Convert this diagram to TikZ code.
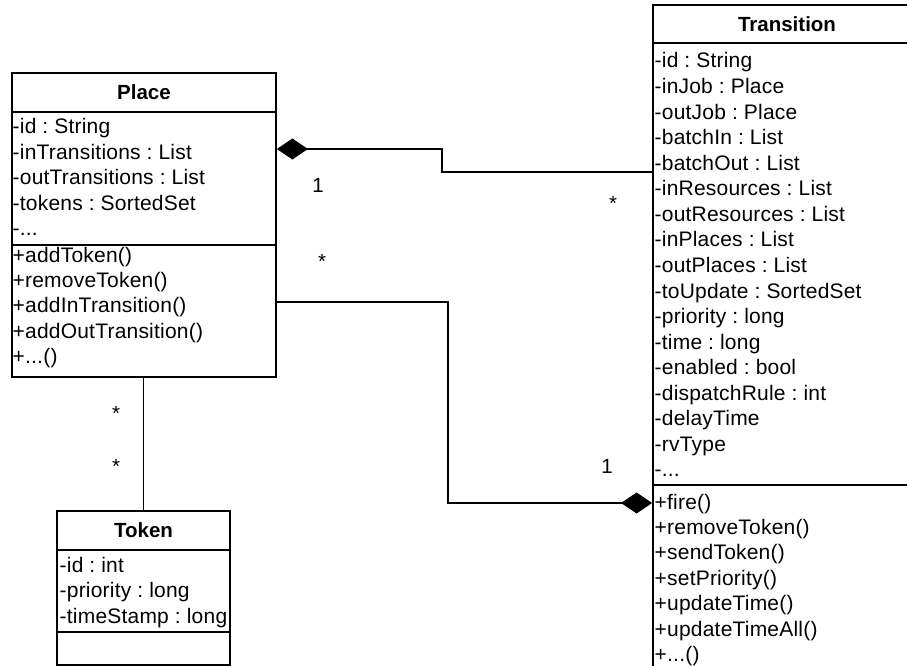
\documentclass[tikz,border=0pt]{standalone}
\usepackage{fontspec}
\setmainfont{Liberation Sans}
\newfontfamily\memberfont[LetterSpace=1.0]{Liberation Sans}
\usetikzlibrary{arrows.meta}
% three periods, written so that \foreach does not read them as a range
\newcommand\dotrun{.{}.{}.}
\frenchspacing
\begin{document}
\begin{tikzpicture}[x=1pt,y=-1pt,
  classbox/.style={draw, line width=1.8pt, rectangle, inner sep=0pt},
  divider/.style={line width=1.8pt},
  link/.style={line width=1.1pt},
  member/.style={anchor=base west, inner sep=0pt, font=\memberfont\fontsize{21}{24}\selectfont},
  classname/.style={anchor=base, inner sep=0pt, font=\fontsize{20.5}{24}\selectfont\bfseries},
  mult/.style={inner sep=0pt, font=\fontsize{20.5}{24}\selectfont},
  comp/.tip={Diamond[length=31pt 0, width=21pt 0]},
]
\useasboundingbox (0,0) rectangle (907,666);
\begin{scope}
\clip (0,0) rectangle (907,666);

% class frames
\node[classbox, minimum width=264pt, minimum height=304pt] (place) at (144,225) {};
\node[classbox, minimum width=173pt, minimum height=154pt] (token) at (143.5,588) {};
\node[classbox, minimum width=268pt, minimum height=695pt] (trans) at (787,352.5) {};

% compartment dividers
\draw[divider] (place.west |- 0,112) -- (place.east |- 0,112);
\draw[divider] (place.west |- 0,245) -- (place.east |- 0,245);
\draw[divider] (token.west |- 0,550) -- (token.east |- 0,550);
\draw[divider] (token.west |- 0,632) -- (token.east |- 0,632);
\draw[divider] (trans.west |- 0,43) -- (trans.east |- 0,43);
\draw[divider] (trans.west |- 0,485) -- (trans.east |- 0,485);

% class names
\node[classname] (placename) at (144,99.5) {Place};
\node[classname] (tokenname) at (143.5,537.5) {Token};
\node[classname] (transname) at (787,31.7) {Transition};

% Place members
\foreach \m [count=\i] in {-id : String, -inTransitions : List, -outTransitions : List, -tokens : SortedSet, -\dotrun}
  \node[member] (pa\i) at (12.5,{134+25.4*(\i-1)}) {\m};
\foreach \m [count=\i] in {+addToken(), +removeToken(), +addInTransition(), +addOutTransition(), +\dotrun()}
  \node[member] (po\i) at (12.5,{262+25.4*(\i-1)}) {\m};

% Token members
\foreach \m [count=\i] in {-id : int, -priority : long, -timeStamp : long}
  \node[member] (ka\i) at (59.5,{572+25.5*(\i-1)}) {\m};

% Transition members
\foreach \m [count=\i] in {-id : String, -inJob : Place, -outJob : Place, -batchIn : List, -batchOut : List, -inResources : List, -outResources : List, -inPlaces : List, -outPlaces : List, -toUpdate : SortedSet, -priority : long, -time : long, -enabled : bool, -dispatchRule : int, -delayTime, -rvType, -\dotrun}
  \node[member] (ta\i) at (654.5,{68+25.56*(\i-1)}) {\m};
\foreach \m [count=\i] in {+fire(), +removeToken(), +sendToken(), +setPriority(), +updateTime(), +updateTimeAll(), +\dotrun()}
  \node[member] (to\i) at (654.5,{509+25.4*(\i-1)}) {\m};

% associations
\draw[link, comp-] (place.east |- 0,149) -- (442,149) -- (442,172) -- (trans.west |- 0,172);
\draw[link, -comp] (place.east |- 0,302) -- (448,302) -- (448,503) -- (trans.west |- 0,503);
\draw[link] (token.north |- place.south) -- (token.north);

% multiplicities
\node[mult] (m1) at (318,185) {1};
\node[mult] (m2) at (322,261) {*};
\node[mult] (m3) at (613,203) {*};
\node[mult] (m4) at (607,466) {1};
\node[mult] (m5) at (116,413) {*};
\node[mult] (m6) at (116,466) {*};
\end{scope}
\end{tikzpicture}
\end{document}
